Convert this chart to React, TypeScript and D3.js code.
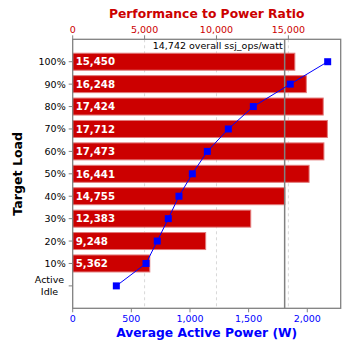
import React from "react";
import * as d3 from "d3";

const loads = ["100%", "90%", "80%", "70%", "60%", "50%", "40%", "30%", "20%", "10%", "Active Idle"];
const ratios = [15450, 16248, 17424, 17712, 17473, 16441, 14755, 12383, 9248, 5362, null];
const powers = [2174, 1855, 1540, 1327, 1148, 1020, 906, 815, 721, 625, 372];
const overall = 14742;
const ratioTicks = [0, 5000, 10000, 15000];
const powerTicks = [0, 500, 1000, 1500, 2000];

const W = 348, H = 348;
const left = 72.7, right = 340.7, top = 39.3, bottom = 308.3;
const RED = "#cc0000";
const BLUE = "#0000ff";
const FONT = "DejaVu Sans, Verdana, sans-serif";

export default function App() {
  const xr = d3.scaleLinear().domain([0, 18640]).range([left, right]);
  const xp = d3.scaleLinear().domain([0, 2285]).range([left, right]);
  const y = d3.scalePoint<string>().domain(loads).range([top, bottom]).padding(1);
  const fmt = d3.format(",");
  const barH = 17;
  const linePts = loads.map((l, i) => [xp(powers[i]), y(l)!] as [number, number]);
  const line = d3.line();
  const midY = (top + bottom) / 2;
  const midX = (left + right) / 2;

  return (
    <svg width={W} height={H} style={{ position: "absolute", left: 0, top: 0, background: "#fff" }} fontFamily={FONT}>
      <rect x={0} y={0} width={W} height={H} fill="#fff" />
      {/* grid */}
      {ratioTicks.slice(1).map((t) => (
        <line key={t} x1={xr(t)} x2={xr(t)} y1={top} y2={bottom} stroke="#d8d8d8" strokeDasharray="3,3" />
      ))}
      {/* bars */}
      {loads.map((l, i) =>
        ratios[i] == null ? null : (
          <g key={l}>
            <rect x={left} y={y(l)! - barH / 2} width={xr(ratios[i] as number) - left} height={barH}
              fill={RED} stroke="#e27a7a" strokeWidth={1} />
            <text x={left + 3} y={y(l)! + 3.7} fill="#fff" fontWeight="bold" fontSize={10.2}>{fmt(ratios[i] as number)}</text>
          </g>
        )
      )}
      {/* overall line */}
      <line x1={xr(overall)} x2={xr(overall)} y1={top} y2={bottom} stroke="#808080" strokeWidth={1.5} />
      <text x={xr(overall) - 2} y={49} textAnchor="end" fontSize={9.5} fill="#000">
        {fmt(overall)} overall ssj_ops/watt
      </text>
      {/* power line */}
      <path d={line(linePts) || ""} fill="none" stroke={BLUE} strokeWidth={1} />
      {linePts.map((p, i) => (
        <rect key={i} x={p[0] - 3.5} y={p[1] - 3.5} width={7} height={7} fill={BLUE} />
      ))}
      {/* frame */}
      <rect x={left} y={top} width={right - left} height={bottom - top} fill="none" stroke="#808080" strokeWidth={1.3} />
      {/* top axis */}
      {ratioTicks.map((t) => (
        <g key={t}>
          <line x1={xr(t)} x2={xr(t)} y1={top - 4} y2={top} stroke="#808080" />
          <text x={xr(t)} y={33.3} textAnchor="middle" fill={RED} fontSize={9.5}>{fmt(t)}</text>
        </g>
      ))}
      <text x={midX} y={17.7} textAnchor="middle" fill={RED} fontWeight="bold" fontSize={12.3}>Performance to Power Ratio</text>
      {/* bottom axis */}
      {powerTicks.map((t) => (
        <g key={t}>
          <line x1={xp(t)} x2={xp(t)} y1={bottom} y2={bottom + 4} stroke="#808080" />
          <text x={xp(t)} y={322.3} textAnchor="middle" fill={BLUE} fontSize={9.5}>{fmt(t)}</text>
        </g>
      ))}
      <text x={midX} y={337.4} textAnchor="middle" fill={BLUE} fontWeight="bold" fontSize={12.3}>Average Active Power (W)</text>
      {/* left axis */}
      {loads.map((l) => (
        <g key={l}>
          <line x1={left - 4} x2={left} y1={y(l)!} y2={y(l)!} stroke="#808080" />
          {l === "Active Idle" ? (
            <text textAnchor="middle" fontSize={9.5} fill="#000">
              <tspan x={49.5} y={y(l)! - 3}>Active</tspan>
              <tspan x={49.5} y={y(l)! + 9.5}>Idle</tspan>
            </text>
          ) : (
            <text x={left - 7} y={y(l)! + 3.5} textAnchor="end" fontSize={9.5} fill="#000">{l}</text>
          )}
        </g>
      ))}
      <text transform={`translate(22,${midY}) rotate(-90)`} textAnchor="middle" fontWeight="bold" fontSize={12.6} fill="#000">Target Load</text>
    </svg>
  );
}
